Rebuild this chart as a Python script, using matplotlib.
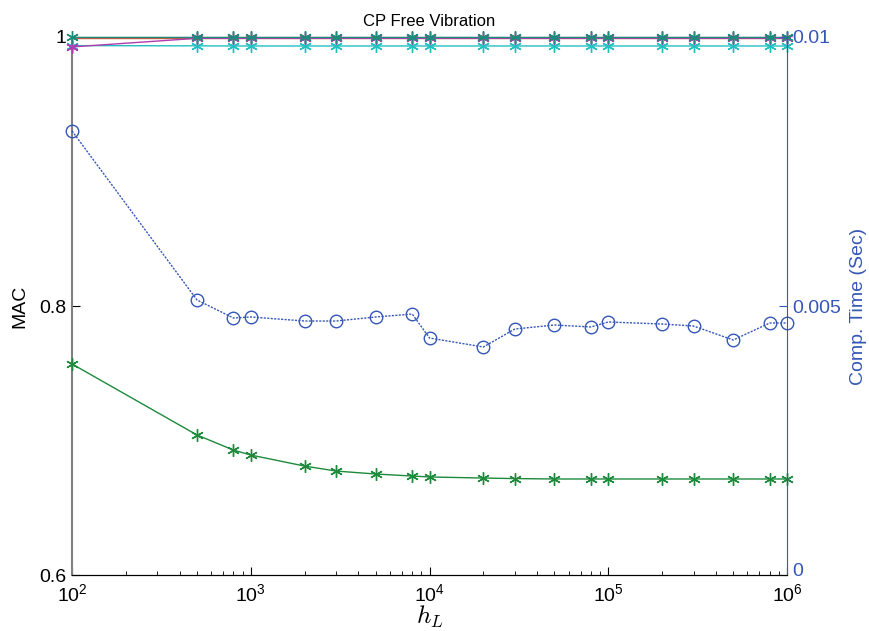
import numpy as np
import matplotlib
matplotlib.use('Agg')
import matplotlib.pyplot as plt
import matplotlib.transforms as mtransforms
from matplotlib.ticker import LogLocator, FixedLocator, FixedFormatter

plt.rcParams['font.family'] = 'Liberation Sans'
plt.rcParams['mathtext.fontset'] = 'cm'

# h_L values
h_L = [1e2, 5e2, 8e2, 1e3, 2e3, 3e3, 5e3, 8e3, 1e4, 2e4, 3e4, 5e4, 8e4,
       1e5, 2e5, 3e5, 5e5, 8e5, 1e6]

# MAC curves (left axis)
mac_green = [0.7569, 0.7041, 0.6929, 0.6892, 0.6810, 0.6773, 0.6751, 0.6736,
             0.6729, 0.6721, 0.6717, 0.6714, 0.6714, 0.6714, 0.6714, 0.6714,
             0.6714, 0.6714, 0.6714]
mac_red = [0.9993] * 19
mac_teal = [1.0] * 19
mac_magenta = [0.9926] + [0.9990] * 18
mac_cyan = [0.9936, 0.9934] + [0.9933] * 17

# computation time (right axis)
comp_time = [0.008253, 0.005112, 0.004777, 0.004796, 0.004721, 0.004721,
             0.004796, 0.004851, 0.004405, 0.004238, 0.004572, 0.004647,
             0.004610, 0.004703, 0.004665, 0.004628, 0.004368, 0.004684,
             0.004684]

blue = '#3557b7'
star = (6, 2, 0)

fig = plt.figure(figsize=(8.69, 6.31), dpi=100)
ax = fig.add_axes([0.0829, 0.0887, 0.8228, 0.8527])
ax2 = ax.twinx()

ax.plot(h_L, mac_red, color='#e0553a', lw=1, zorder=3)
ax.plot(h_L, mac_cyan, color='#22c0c0', lw=1, marker=star, ms=9,
        mew=1, clip_on=False, zorder=3)
ax.plot(h_L, mac_magenta, color='#b03cb0', lw=1, marker=star, ms=9,
        mew=1, clip_on=False, zorder=4)
ax.plot(h_L, mac_teal, color='#1e8a78', lw=1, marker=star, ms=9,
        mew=1, clip_on=False, zorder=5)
ax.plot(h_L, mac_green, color='#1d8a3c', lw=1, marker=star, ms=9, mew=1,
        clip_on=False, zorder=5)

ax2.plot(h_L, comp_time, color=blue, lw=1, ls=(0, (1.5, 1)), marker='o', ms=9,
         mfc='none', mec=blue, mew=1, clip_on=False)

ax.set_xscale('log')
ax.set_xlim(1e2, 1e6)
ax.set_ylim(0.6, 1.0)
ax2.set_ylim(0, 0.01)

ax.yaxis.set_major_locator(FixedLocator([0.6, 0.8, 1.0]))
ax.yaxis.set_major_formatter(FixedFormatter(['0.6', '0.8', '1']))
ax2.yaxis.set_major_locator(FixedLocator([0, 0.005, 0.01]))
ax2.yaxis.set_major_formatter(FixedFormatter(['0', '0.005', '0.01']))
ax.xaxis.set_major_locator(LogLocator(base=10, numticks=10))
ax.xaxis.set_minor_locator(LogLocator(base=10, subs=np.arange(2, 10), numticks=10))

ax.tick_params(axis='both', which='both', direction='in', labelsize=14)
ax.tick_params(axis='x', which='major', length=6, pad=6)
ax.tick_params(axis='x', which='minor', length=3)
ax.tick_params(axis='y', length=6, pad=4)
ax2.tick_params(axis='y', direction='in', length=6, labelsize=14,
                colors=blue, pad=4)
# nudge the right-axis "0" up a little so it clears the 10^6 label
lbl0 = ax2.get_yticklabels()[0]
lbl0.set_transform(lbl0.get_transform() +
                   mtransforms.ScaledTranslation(0, 4 / 72, fig.dpi_scale_trans))

ax.spines['left'].set_color('#808080')
ax.spines['left'].set_linewidth(1.5)
ax2.spines['right'].set_color(blue)
ax2.spines['left'].set_visible(False)
ax.spines['right'].set_visible(False)
ax.spines['top'].set_color('black')
ax2.spines['top'].set_visible(False)

ax.set_ylabel('MAC', fontsize=14, labelpad=8)
ax2.set_ylabel('Comp. Time (Sec)', fontsize=14, color=blue, labelpad=6)
ax.set_xlabel('$h_L$', fontsize=18, labelpad=-1)
ax.set_title('CP Free Vibration', fontsize=12, pad=8)

fig.savefig('out.png', dpi=100)
